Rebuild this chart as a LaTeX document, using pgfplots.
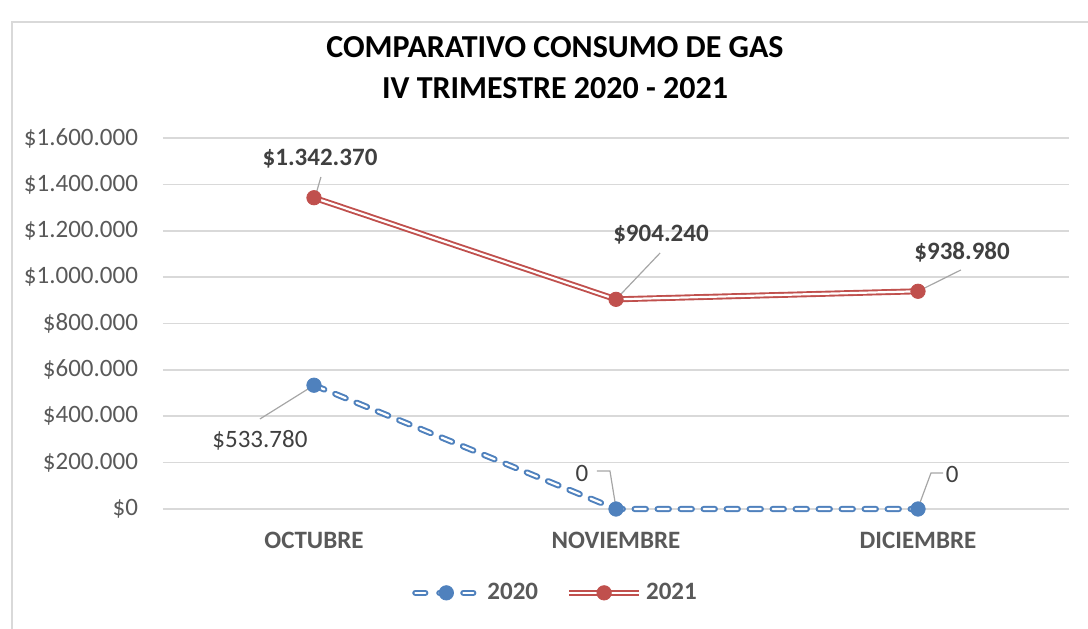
\documentclass[border=0pt]{standalone}
\usepackage{pgfplots}
\pgfplotsset{compat=1.18}
\usepackage{fontspec}
\setmainfont{Carlito}
\definecolor{c2020}{HTML}{4F81BD}
\definecolor{c2021}{HTML}{C0504D}
\definecolor{gridgris}{HTML}{D9D9D9}
\definecolor{textgris}{HTML}{595959}
\definecolor{labgris}{HTML}{404040}
\definecolor{leader}{HTML}{A6A6A6}
\newcommand{\lblfont}{\fontsize{12.5}{14}\selectfont}
\tikzset{
  line2020/.style={draw=c2020, line width=1pt, double=white, double distance=1.1pt,
    dash pattern=on 5.6pt off 5.9pt, line cap=round},
  line2021/.style={draw=c2021, line width=0.95pt, double=white, double distance=1.1pt},
  lead/.style={draw=leader, line width=0.6pt},
}
\begin{document}
\begin{tikzpicture}
\useasboundingbox (0,0) rectangle (544pt,314pt);
\draw[gridgris, line width=0.8pt] (6pt,-2pt) -- (6pt,303pt) -- (546pt,303pt);
\node[align=center, font=\fontsize{16}{20.5}\selectfont\bfseries] at (277.5pt,280pt)
  {COMPARATIVO CONSUMO DE GAS\\IV TRIMESTRE 2020 - 2021};
\begin{axis}[
  at={(81.5pt,59.5pt)}, anchor=south west,
  scale only axis, width=453pt, height=185.5pt,
  xmin=-0.5, xmax=2.5, ymin=0, ymax=1600000,
  scaled y ticks=false,
  axis line style={draw=none},
  tick style={draw=none},
  xtick={0,1,2}, xticklabels={OCTUBRE,NOVIEMBRE,DICIEMBRE},
  ytick={0,200000,400000,600000,800000,1000000,1200000,1400000,1600000},
  yticklabels={\$0,\$200.000,\$400.000,\$600.000,\$800.000,\$1.000.000,\$1.200.000,\$1.400.000,\$1.600.000},
  ymajorgrids, grid style={gridgris, line width=0.8pt},
  tick label style={font=\lblfont, text=textgris},
  xticklabel style={font=\lblfont\bfseries, yshift=-8pt},
  yticklabel style={xshift=-9pt},
  legend style={at={(0.4327,-0.226)}, anchor=center, draw=none, fill=none,
    legend columns=2, font=\lblfont\bfseries, text=textgris,
    /tikz/every even column/.append style={column sep=12pt}},
  clip=false,
]
\addplot[line2020, forget plot] coordinates {(0,533780) (1,0) (2,0)};
\addplot[only marks, mark=*, mark size=3.6pt, mark options={fill=c2020, draw=c2020}, forget plot]
  coordinates {(0,533780) (1,0) (2,0)};
\addplot[line2021, forget plot] coordinates {(0,1342370) (1,904240) (2,938980)};
\addplot[only marks, mark=*, mark size=3.6pt, mark options={fill=c2021, draw=c2021}, forget plot]
  coordinates {(0,1342370) (1,904240) (2,938980)};

\addlegendimage{legend image code/.code={
  \draw[line2020, dash pattern=on 5pt off 7pt, dash phase=-1.5pt] (0pt,0pt) -- (34pt,0pt);
  \fill[c2020] (17pt,0pt) circle (3.6pt);}}
\addlegendentry{2020}
\addlegendimage{legend image code/.code={
  \draw[line2021] (0pt,0pt) -- (35pt,0pt);
  \fill[c2021] (17.5pt,0pt) circle (3.6pt);}}
\addlegendentry{2021}

% leader lines
\draw[lead] (axis cs:-0.179,388200) -- (axis cs:0,533780);
\draw[lead] (axis cs:0.937,163900) -- (axis cs:0.980,163900) -- (axis cs:1,4300);
\draw[lead] (axis cs:2.083,155270) -- (axis cs:2.043,155270) -- (axis cs:2,4300);
\draw[lead] (axis cs:0.023,1431900) -- (axis cs:0.003,1342370);
\draw[lead] (axis cs:1.146,1104100) -- (axis cs:1,904240);
\draw[lead] (axis cs:2.142,1030800) -- (axis cs:2,938980);

% data labels
\begin{scope}[every node/.style={font=\lblfont, text=labgris}]
\node at (axis cs:-0.179,297600) {\$533.780};
\node at (axis cs:0.887,155270) {0};
\node at (axis cs:2.113,150950) {0};
\node[font=\lblfont\bfseries] at (axis cs:0.02,1509000) {\$1.342.370};
\node[font=\lblfont\bfseries] at (axis cs:1.149,1181700) {\$904.240};
\node[font=\lblfont\bfseries] at (axis cs:2.146,1108400) {\$938.980};
\end{scope}
\end{axis}
\end{tikzpicture}
\end{document}
